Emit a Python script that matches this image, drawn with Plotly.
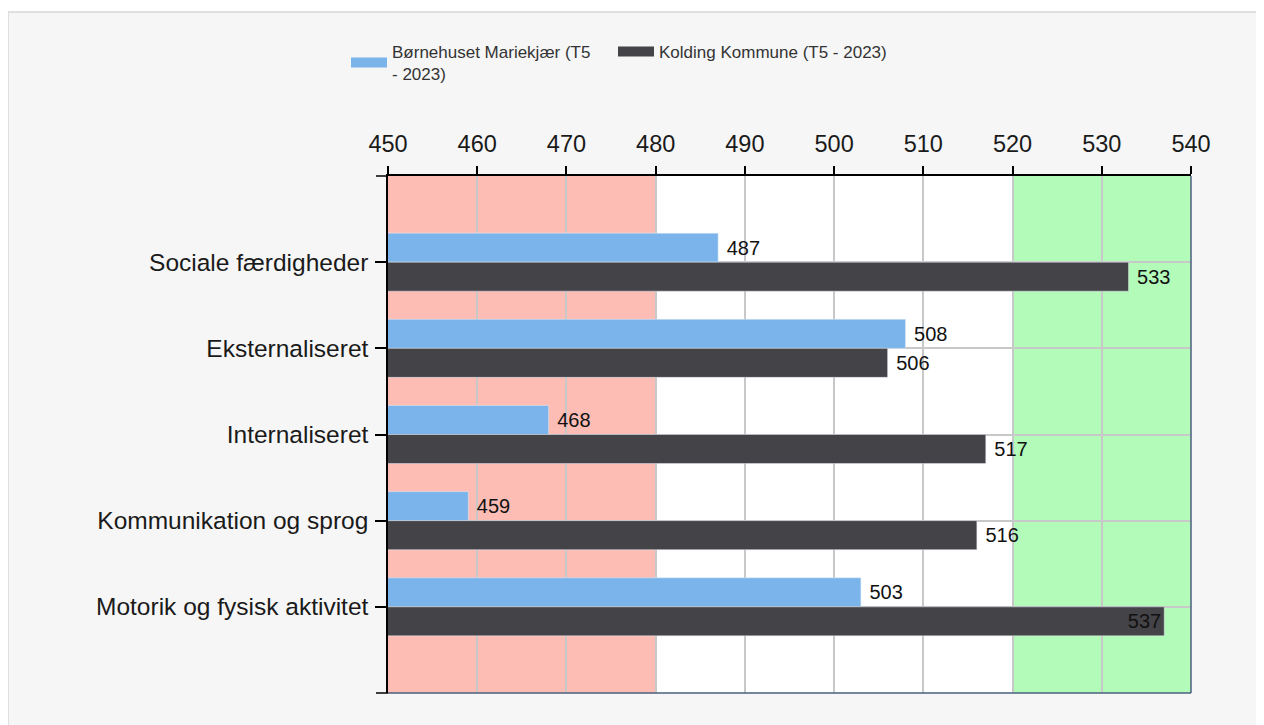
import plotly.graph_objects as go

categories = ["Sociale færdigheder", "Eksternaliseret", "Internaliseret",
              "Kommunikation og sprog", "Motorik og fysisk aktivitet"]
series_names = ["Børnehuset Mariekjær (T5<br>- 2023)", "Kolding Kommune (T5 - 2023)"]
boernehuset = [487, 508, 468, 459, 503]
kolding = [533, 506, 517, 516, 537]
x_ticks = [450, 460, 470, 480, 490, 500, 510, 520, 530, 540]
low_zone = [450, 480]
high_zone = [520, 540]

BLUE = "#7ab4ea"
DARK = "#444347"
FONT = "Liberation Sans, Arial, sans-serif"

# page body has an 8px margin, so the figure is drawn from (8, 8)
W, H = 1256, 717
L, T = 380, 168
R, B = 73, 32
PW, PH = W - L - R, H - T - B

fig = go.Figure()

def positions(vals, limit=535):
    return ["inside" if v >= limit else "outside" for v in vals]

for vals, col, name in [(boernehuset, BLUE, series_names[0]), (kolding, DARK, series_names[1])]:
    fig.add_trace(go.Bar(
        y=categories, x=vals, orientation="h", marker_color=col,
        name=name, showlegend=False,
        texttemplate="\u00a0%{x}", textposition=positions(vals),
        insidetextanchor="end",
        textfont=dict(family=FONT, size=20, color="#111"),
        cliponaxis=False,
    ))
# legend entries (one legend box per series, positioned like the original)
for name, col, lg in zip(series_names, [BLUE, DARK], ["legend", "legend2"]):
    fig.add_trace(go.Scatter(x=[None], y=[None], mode="lines", name=name,
                             line=dict(color=col, width=17), showlegend=True,
                             legend=lg))

shapes = []
# panel background
shapes.append(dict(type="rect", xref="paper", yref="paper", layer="below",
                   x0=(0 - L) / PW, x1=(1250 - L) / PW,
                   y0=(T + PH - 740) / PH, y1=(T + PH - 4) / PH,
                   fillcolor="#f6f6f6", line=dict(color="#d8d8d8", width=1.5)))
# plot area white
shapes.append(dict(type="rect", xref="paper", yref="paper", layer="below",
                   x0=0, x1=1, y0=0, y1=1, fillcolor="white", line_width=0))
# zones
for zone, col in [(low_zone, "#fdbdb5"), (high_zone, "#b3fbb9")]:
    shapes.append(dict(type="rect", xref="x", yref="paper", layer="below",
                       x0=zone[0], x1=zone[1], y0=0, y1=1,
                       fillcolor=col, line_width=0))
# right and bottom border
shapes.append(dict(type="line", xref="paper", yref="paper", x0=1, x1=1, y0=0, y1=1,
                   line=dict(color="#4a5f7e", width=1.5)))
shapes.append(dict(type="line", xref="paper", yref="paper", x0=0, x1=1, y0=0, y1=0,
                   line=dict(color="#4a5f7e", width=1.5)))
# corner ticks on left axis
for yy in [0, 1]:
    shapes.append(dict(type="line", xref="paper", yref="paper",
                       x0=-12 / PW, x1=0, y0=yy, y1=yy,
                       line=dict(color="black", width=1.5)))

legend_common = dict(orientation="h", xanchor="left",
                     y=(T + PH - 26) / PH, yanchor="top",
                     font=dict(family=FONT, size=17, color="#333"),
                     bgcolor="rgba(0,0,0,0)", itemwidth=36, valign="middle")

fig.update_layout(
    width=W, height=H,
    margin=dict(l=L, r=R, t=T, b=B),
    paper_bgcolor="white", plot_bgcolor="rgba(0,0,0,0)",
    barmode="group", bargap=0.326, bargroupgap=0,
    shapes=shapes,
    font=dict(family=FONT, color="#1a1a1a"),
    legend=dict(x=(338 - L) / PW, **legend_common),
    legend2=dict(x=(605 - L) / PW, **legend_common),
    xaxis=dict(side="top", range=[450, 540], tickvals=x_ticks,
               ticks="outside", ticklen=8, tickcolor="black", tickwidth=1.5,
               showline=True, linecolor="black", linewidth=1.5,
               showgrid=True, gridcolor="#c8c8c8", gridwidth=1.5, zeroline=False,
               ticklabelstandoff=5,
               tickfont=dict(family=FONT, size=23.5, color="#1a1a1a")),
    yaxis=dict(type="category", categoryorder="array", categoryarray=categories,
               range=[5, -1],
               ticks="outside", ticklen=11, tickcolor="black", tickwidth=1.5,
               showline=True, linecolor="black", linewidth=1.5,
               showgrid=True, gridcolor="#c8c8c8", gridwidth=1.5,
               ticklabelstandoff=2,
               tickfont=dict(family=FONT, size=24.5, color="#1a1a1a")),
)

fig.write_html("out.html")
